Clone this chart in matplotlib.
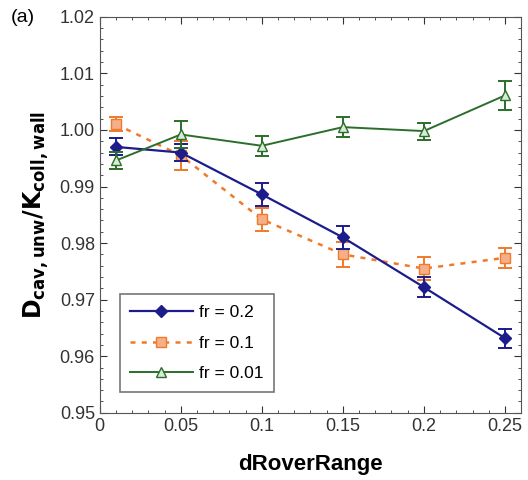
import matplotlib
matplotlib.use("Agg")
import matplotlib.pyplot as plt
from matplotlib.ticker import MultipleLocator, FuncFormatter
from matplotlib.lines import Line2D

plt.rcParams['font.family'] = ['Liberation Sans', 'DejaVu Sans']

x = [0.01, 0.05, 0.1, 0.15, 0.2, 0.25]
fr02 = [0.997, 0.996, 0.9886, 0.981, 0.9722, 0.9632]
fr02_err = [0.0015, 0.0015, 0.002, 0.002, 0.0018, 0.0017]
fr01 = [1.001, 0.9955, 0.9842, 0.978, 0.9755, 0.9774]
fr01_err = [0.0012, 0.0025, 0.002, 0.0022, 0.002, 0.0018]
fr001 = [0.9946, 0.9992, 0.9972, 1.0005, 0.9998, 1.0061]
fr001_err = [0.0015, 0.0024, 0.0018, 0.0018, 0.0015, 0.0025]
labels = ['fr = 0.2', 'fr = 0.1', 'fr = 0.01']

fig = plt.figure(figsize=(5.28, 4.8), dpi=100)
ax = fig.add_axes([0.189, 0.140, 0.798, 0.825])

blue = '#1c1c8c'
orange = '#f07a2a'
green = '#2b6e2b'

styles = [
    dict(color=blue, marker='D', markersize=6, lw=1.6, ls='-'),
    dict(color=orange, marker='s', markersize=7, mfc='#f5b08a', mec=orange, ls=(0, (2, 2.5)), lw=1.8),
    dict(color=green, marker='^', markersize=7, mfc='#d8ead8', mec=green, lw=1.4, ls='-'),
]
series = [(fr02, fr02_err), (fr01, fr01_err), (fr001, fr001_err)]
zs = [4, 3, 5]
handles = []
for (y, e), st, lab, z in zip(series, styles, labels, zs):
    ax.errorbar(x, y, yerr=e, capsize=5, capthick=1.4, elinewidth=1.4, zorder=z, **st)
    handles.append(Line2D([], [], label=lab, **st))

ax.set_xlim(0, 0.26)
ax.set_ylim(0.95, 1.02)
ax.xaxis.set_major_locator(MultipleLocator(0.05))
ax.xaxis.set_minor_locator(MultipleLocator(0.01))
ax.yaxis.set_major_locator(MultipleLocator(0.01))
ax.yaxis.set_minor_locator(MultipleLocator(0.002))
ax.xaxis.set_major_formatter(FuncFormatter(lambda v, p: ('%g' % round(v, 3))))
ax.yaxis.set_major_formatter(FuncFormatter(lambda v, p: '%.2f' % v))
ax.tick_params(which='both', direction='in', top=True, right=True, labelsize=13, colors='#333333')
ax.tick_params(which='major', length=5)
ax.tick_params(which='minor', length=2.5)
for s in ax.spines.values():
    s.set_color('#555555')

ax.set_xlabel('dRoverRange', fontsize=16, fontweight='bold', labelpad=14)
ax.set_ylabel(r'$\mathbf{D_{cav,unw}/K_{coll,wall}}$', fontsize=17, labelpad=6)
fig.text(0.02, 0.955, '(a)', fontsize=14)

leg = ax.legend(handles=handles, loc='lower left', bbox_to_anchor=(0.047, 0.053),
                borderaxespad=0, fontsize=12.5,
                frameon=True, fancybox=False, edgecolor='#555555', handlelength=3.6,
                borderpad=0.6, labelspacing=0.9, handletextpad=0.4)
leg.get_frame().set_linewidth(1.2)

fig.savefig('out.png', dpi=100)
